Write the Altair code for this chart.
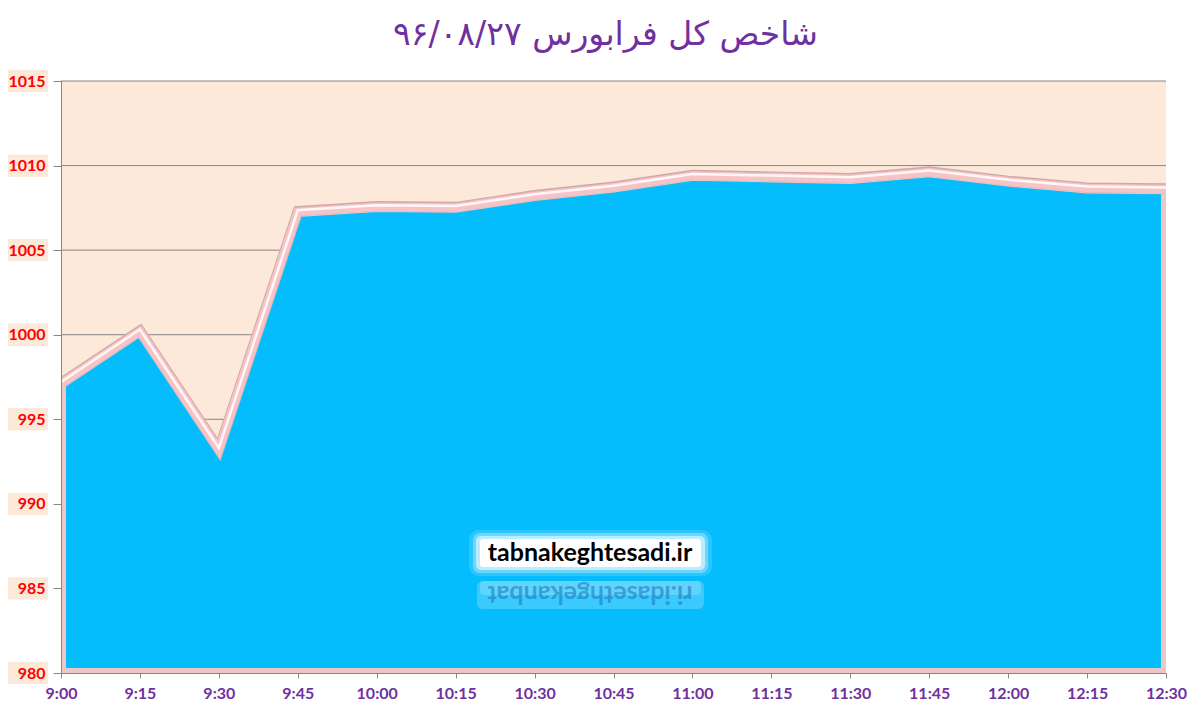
import altair as alt
import pandas as pd

# ---- data ----
times = ["9:00", "9:15", "9:30", "9:45", "10:00", "10:15", "10:30", "10:45",
         "11:00", "11:15", "11:30", "11:45", "12:00", "12:15", "12:30"]
values = [997.1, 1000.2, 993.2, 1007.25, 1007.55, 1007.5, 1008.2, 1008.7,
          1009.4, 1009.3, 1009.2, 1009.6, 1009.05, 1008.65, 1008.6]
y_ticks = [980, 985, 990, 995, 1000, 1005, 1010, 1015]
title_text = "شاخص کل فرابورس ۹۶/۰۸/۲۷"
watermark = "tabnakeghtesadi.ir"

df = pd.DataFrame({"time": times, "value": values})
ticks_df = pd.DataFrame({"tick": y_ticks})
wm_df = pd.DataFrame({"t": [watermark], "r": [watermark[::-1]]})

PURPLE = "#7030A0"
y_scale = alt.Scale(domain=[980, 1015], nice=False, zero=False)
x_enc = alt.X(
    "time:O", sort=times, scale=alt.Scale(type="point", padding=0),
    axis=alt.Axis(title=None, labelAngle=0, labelColor=PURPLE, labelFont="Lato",
                  labelFontWeight="bold", labelFontSize=16, labelPadding=7,
                  tickSize=5, tickColor="#868686", domainColor="#868686",
                  grid=False, zindex=1),
)
y_axis = alt.Axis(values=y_ticks, format="d", title=None, labelColor="#FF0000",
                  labelFont="Lato", labelFontWeight="bold", labelFontSize=16,
                  labelPadding=8, tickSize=8, tickColor="#868686",
                  domainColor="#868686", grid=False, zindex=1)

label_bg = alt.Chart(ticks_df).transform_calculate(
    lo="datum.tick - 0.66", hi="datum.tick + 0.66"
).mark_rect(color="#FCE9DA", clip=False).encode(
    x=alt.value(-53), x2=alt.value(-13),
    y=alt.Y("lo:Q", scale=y_scale, axis=y_axis), y2="hi:Q",
)

grid = alt.Chart(ticks_df).mark_rule(color="#868686", strokeWidth=1).encode(
    y=alt.Y("tick:Q", scale=y_scale, axis=y_axis)
)

area = alt.Chart(df).mark_area(
    color="#05BCFD", stroke="#EDC6C6", strokeWidth=10, clip=True
).encode(
    x=x_enc,
    y=alt.Y("value:Q", scale=y_scale, axis=y_axis),
    y2=alt.datum(980),
)

line_dark = alt.Chart(df).mark_line(
    color="#CFA9A9", strokeWidth=10, yOffset=-1, clip=True
).encode(x=x_enc, y=alt.Y("value:Q", scale=y_scale, axis=y_axis))
line_pink = alt.Chart(df).mark_line(
    color="#F6C4C6", strokeWidth=8.5, yOffset=-0.3, clip=True
).encode(x=x_enc, y=alt.Y("value:Q", scale=y_scale, axis=y_axis))
line_white = alt.Chart(df).mark_line(
    color="#FFF7F7", strokeWidth=2.5, yOffset=-1.8, clip=True
).encode(x=x_enc, y=alt.Y("value:Q", scale=y_scale, axis=y_axis))

# watermark (label box with glow and its reflection)
wm_glow1 = alt.Chart(wm_df).mark_rect(color="white", opacity=0.15, cornerRadius=10).encode(
    x=alt.value(408), x2=alt.value(651), y=alt.value(449), y2=alt.value(495))
wm_glow2 = alt.Chart(wm_df).mark_rect(color="white", opacity=0.3, cornerRadius=7).encode(
    x=alt.value(412), x2=alt.value(647), y=alt.value(452), y2=alt.value(492))
wm_glow3 = alt.Chart(wm_df).mark_rect(color="white", opacity=0.55, cornerRadius=5).encode(
    x=alt.value(415), x2=alt.value(644), y=alt.value(455), y2=alt.value(489))
wm_box = alt.Chart(wm_df).mark_rect(color="white", cornerRadius=3).encode(
    x=alt.value(419), x2=alt.value(640), y=alt.value(458), y2=alt.value(486))
wm_text = alt.Chart(wm_df).mark_text(
    font="Lato", fontWeight="bold", fontSize=25, color="black",
    align="center", baseline="middle"
).encode(x=alt.value(529), y=alt.value(472), text="t:N")

rf_glow1 = alt.Chart(wm_df).mark_rect(color="#B5ECFF", opacity=0.3, cornerRadius=6).encode(
    x=alt.value(416), x2=alt.value(643), y=alt.value(500), y2=alt.value(528))
rf_glow2 = alt.Chart(wm_df).mark_rect(color="#B5ECFF", opacity=0.3, cornerRadius=4).encode(
    x=alt.value(419), x2=alt.value(640), y=alt.value(500), y2=alt.value(514))
rf_text = alt.Chart(wm_df).mark_text(
    font="Lato", fontWeight="bold", fontSize=25, color="#1C74B8", opacity=0.55,
    align="center", baseline="middle", angle=180
).encode(x=alt.value(529), y=alt.value(513), text="r:N")

chart = alt.layer(
    label_bg, grid, area, line_dark, line_pink, line_white,
    wm_glow1, wm_glow2, wm_glow3, wm_box, wm_text, rf_glow1, rf_glow2, rf_text
).properties(
    width=1105, height=592,
    title=alt.TitleParams(title_text, font="DejaVu Sans", fontSize=33,
                          fontWeight="normal", color=PURPLE, anchor="middle",
                          offset=18, dx=-8),
    autosize=alt.AutoSizeParams(type="none"),
    padding={"left": 53, "top": 73, "right": 22, "bottom": 28},
    background="white",
).configure_view(
    fill="#FCE9DA", stroke=None
)

chart.save("out.html", embed_options={"renderer": "svg", "actions": False})
